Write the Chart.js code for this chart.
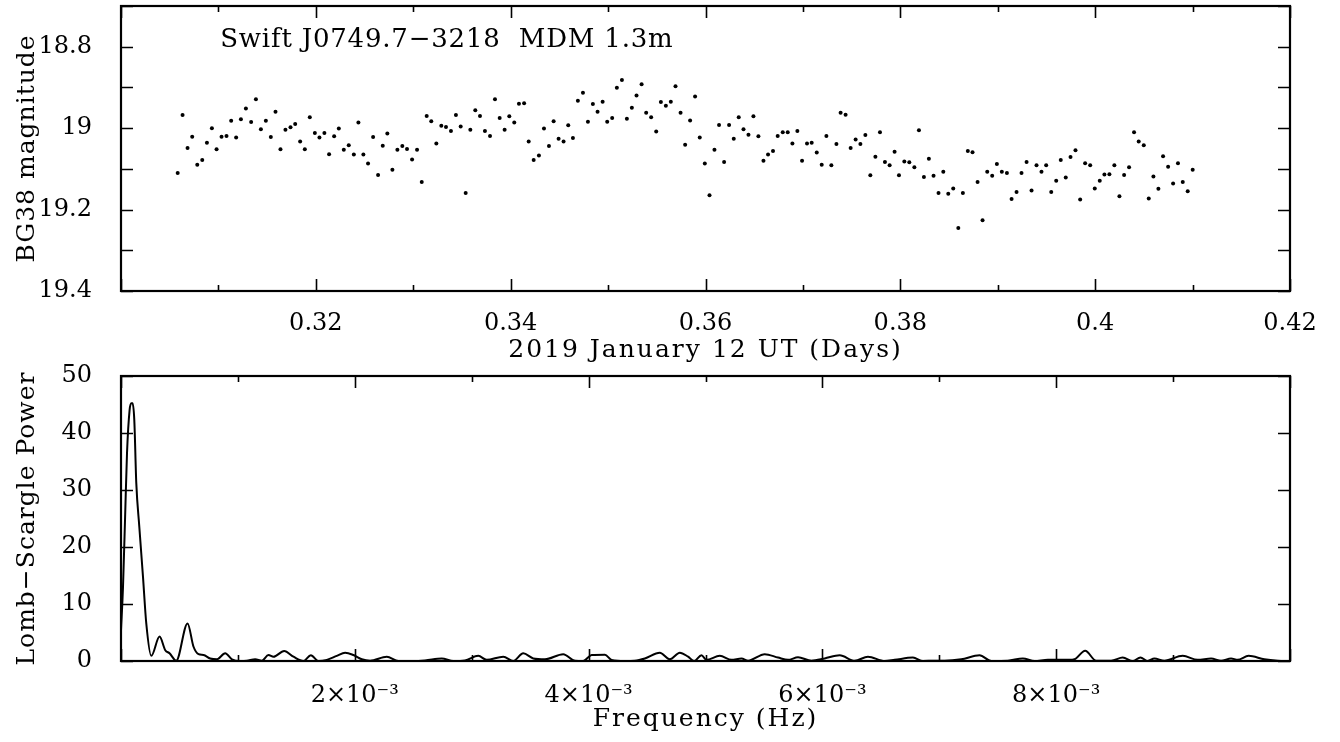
<!DOCTYPE html>
<html><head><meta charset="utf-8">
<script src="https://cdn.jsdelivr.net/npm/chart.js@4.4.1/dist/chart.umd.min.js"></script>
<style>
html,body{margin:0;padding:0;background:#fff;}
#wrap{position:relative;width:1340px;height:742px;overflow:hidden;}
canvas{position:absolute;left:0;display:block;}
</style></head><body>
<div id="wrap">
<canvas id="topChart" width="1340" height="371" style="top:0"></canvas>
<canvas id="botChart" width="1340" height="402" style="top:340px"></canvas>
</div>
<script>
// ---------- light curve (top panel) ----------
const obsTime = [
0.30582,0.30632,0.30683,0.30731,0.30783,0.30834,0.30882,0.30933,0.30981,0.31032,
0.31083,0.31131,0.31182,0.31231,0.31282,0.31336,0.31385,0.31436,0.31487,0.31538,
0.31586,0.31637,0.31688,0.31740,0.31788,0.31839,0.31887,0.31938,0.31990,0.32037,
0.32088,0.32136,0.32188,0.32236,0.32287,0.32338,0.32390,0.32437,0.32488,0.32536,
0.32588,0.32639,0.32687,0.32734,0.32786,0.32837,0.32888,0.32936,0.32988,0.33039,
0.33087,0.33138,0.33185,0.33237,0.33288,0.33336,0.33387,0.33438,0.33487,0.33538,
0.33586,0.33637,0.33685,0.33736,0.33788,0.33839,0.33887,0.33938,0.33986,0.34037,
0.34085,0.34138,0.34185,0.34236,0.34290,0.34342,0.34393,0.34441,0.34492,0.34543,
0.34591,0.34639,0.34690,0.34742,0.34793,0.34844,0.34892,0.34944,0.34991,0.35042,
0.35090,0.35142,0.35193,0.35244,0.35292,0.35344,0.35391,0.35442,0.35494,0.35542,
0.35593,0.35644,0.35692,0.35744,0.35791,0.35842,0.35893,0.35941,0.35993,0.36041,
0.36092,0.36139,0.36191,0.36242,0.36290,0.36341,0.36390,0.36441,0.36492,0.36543,
0.36595,0.36642,0.36693,0.36741,0.36793,0.36844,0.36892,0.36943,0.36991,0.37042,
0.37090,0.37142,0.37193,0.37241,0.37292,0.37344,0.37387,0.37438,0.37490,0.37541,
0.37590,0.37641,0.37692,0.37744,0.37791,0.37842,0.37890,0.37941,0.37986,0.38041,
0.38092,0.38144,0.38191,0.38242,0.38293,0.38341,0.38392,0.38441,0.38492,0.38543,
0.38595,0.38642,0.38693,0.38741,0.38793,0.38844,0.38892,0.38943,0.38991,0.39042,
0.39094,0.39142,0.39193,0.39244,0.39296,0.39347,0.39398,0.39449,0.39497,0.39549,
0.39600,0.39647,0.39698,0.39747,0.39798,0.39846,0.39897,0.39949,0.39996,0.40047,
0.40095,0.40146,0.40197,0.40249,0.40297,0.40348,0.40399,0.40447,0.40499,0.40550,
0.40598,0.40649,0.40697,0.40749,0.40800,0.40850,0.40899,0.40950,0.41001
];
const obsMag = [
19.110,18.968,19.049,19.021,19.090,19.078,19.036,19.000,19.052,19.021,
19.019,18.982,19.023,18.978,18.952,18.985,18.929,19.003,18.982,19.022,
18.960,19.052,19.004,18.998,18.990,19.033,19.052,18.973,19.012,19.023,
19.012,19.064,19.020,19.001,19.053,19.042,19.065,18.986,19.065,19.087,
19.022,19.115,19.043,19.013,19.102,19.053,19.044,19.051,19.077,19.053,
19.132,18.970,18.983,19.038,18.994,18.997,19.007,18.968,18.996,19.159,
19.004,18.956,18.970,19.007,19.019,18.929,18.975,19.004,18.971,18.986,
18.940,18.939,19.033,19.078,19.067,19.001,19.044,18.983,19.026,19.033,
18.993,19.024,18.933,18.913,18.984,18.941,18.960,18.935,18.984,18.975,
18.901,18.882,18.977,18.950,18.920,18.892,18.962,18.973,19.008,18.936,
18.945,18.935,18.897,18.962,19.041,18.981,18.922,19.023,19.087,19.165,
19.053,18.992,19.083,18.992,19.026,18.973,19.003,19.016,18.971,19.020,
19.080,19.065,19.056,19.019,19.010,19.010,19.038,19.007,19.080,19.038,
19.036,19.060,19.090,19.019,19.091,19.039,18.962,18.967,19.049,19.028,
19.039,19.017,19.116,19.070,19.010,19.083,19.091,19.058,19.116,19.082,
19.084,19.096,19.005,19.120,19.075,19.117,19.159,19.107,19.161,19.148,
19.245,19.159,19.056,19.059,19.132,19.226,19.107,19.117,19.088,19.107,
19.110,19.174,19.157,19.110,19.083,19.153,19.091,19.107,19.091,19.157,
19.129,19.078,19.121,19.071,19.054,19.175,19.086,19.091,19.148,19.129,
19.114,19.113,19.091,19.167,19.115,19.096,19.010,19.033,19.042,19.173,
19.119,19.149,19.069,19.095,19.136,19.086,19.132,19.155,19.102
];
const timeTickLabels = ['0.32','0.34','0.36','0.38','0.4','0.42'];
const magTickLabels = ['18.8','19','19.2','19.4'];

// ---------- periodogram (bottom panel) ----------
const freqHz = [
0,0.0000171,0.0000368,0.0000513,0.0000735,0.0000880,0.0000991,0.0001137,0.0001308,0.0001564,
0.0001880,0.0002162,0.0002590,0.0003299,0.0003786,0.0004154,0.0004726,0.0005692,0.0006205,0.0006632,
0.0007060,0.0007632,0.0008205,0.0008915,0.0009487,0.0010197,0.0010769,0.0011479,0.0012051,0.0012615,
0.0013043,0.0013957,0.0014752,0.0015607,0.0016239,0.0016889,0.0017607,0.0018462,0.0019171,0.0019880,
0.0020598,0.0021308,0.0022735,0.0023726,0.0024872,0.0026009,0.0027436,0.0028427,0.0029427,0.0030564,
0.0031282,0.0032701,0.0033556,0.0034410,0.0035265,0.0036265,0.0037829,0.0038829,0.0039538,0.0040256,
0.0041393,0.0041966,0.0043103,0.0043957,0.0044812,0.0046094,0.0046949,0.0047803,0.0048513,0.0049026,
0.0049658,0.0050085,0.0051222,0.0052222,0.0053077,0.0053641,0.0055068,0.0056205,0.0057060,0.0057915,
0.0059060,0.0060197,0.0061479,0.0062761,0.0063897,0.0065325,0.0066179,0.0067744,0.0068598,0.0069598,
0.0070453,0.0071880,0.0073444,0.0074444,0.0075863,0.0077145,0.0078145,0.0079282,0.0081137,0.0081564,
0.0082479,0.0083419,0.0084701,0.0085692,0.0086547,0.0087205,0.0087829,0.0088397,0.0089252,0.0090821,
0.0092103,0.0093248,0.0094103,0.0094957,0.0095521,0.0096462,0.0097803,0.0098940,0.0100000
];
const lsPower = [
5.4,13,26.5,36.4,44,45.2,45.2,42.3,31.2,23.6,
14.8,6.6,0.9,4.3,1.9,1.35,0.05,6.6,2.5,1.2,
1.05,0.45,0.3,1.35,0.3,0,0.05,0.3,0.05,1.05,
0.75,1.75,0.75,0,1.0,0,0.2,0.9,1.45,1.05,
0.3,0.05,0.75,0,0,0.1,0.45,0,0.1,0.9,
0.2,0.75,0,1.35,0.45,0.3,1.2,0.05,0,1.05,
1.1,0.2,0,0.05,0.45,1.45,0.3,1.45,0.75,0,
1.0,0.2,0.9,0.2,0.45,0.05,1.2,0.6,0.2,0.65,
0.05,0.45,1.0,0.05,0.75,0,0.2,0.6,0,0.05,
0.05,0.3,1.0,0,0.05,0.45,0,0.2,0.2,0.3,
1.8,0.05,0.05,0.6,0,0.6,0,0.45,0.05,0.9,
0.2,0.45,0.05,0.45,0.2,0.9,0.3,0.05,0
];
const freqTickValues = [0.002,0.004,0.006,0.008];
const freqTickLabels = ['2×10⁻³','4×10⁻³','6×10⁻³','8×10⁻³'];
const powerTickLabels = ['0','10','20','30','40','50'];

const annotText = 'Swift J0749.7\u22123218  MDM 1.3m';

// ---------- common settings ----------
const FONT = '"DejaVu Serif", "Liberation Serif", serif';
Chart.defaults.font.family = FONT;
Chart.defaults.color = '#000';

function labelFrom(values, labels) {
  return function (v) {
    const i = values.findIndex(t => Math.abs(t - v) < 1e-9);
    return i >= 0 ? labels[i] : '';
  };
}
const nums = a => a.map(parseFloat);

const frameTicks = {
  id: 'frameTicks',
  afterDraw(chart, args, opts) {
    const {ctx, chartArea: a} = chart;
    const xs = chart.scales.x, ys = chart.scales.y;
    const isMajor = (v, s) => Math.abs(v / s - Math.round(v / s)) < 1e-6;
    ctx.save();
    ctx.strokeStyle = '#000';
    ctx.lineWidth = 1.6;
    ctx.beginPath();
    xs.ticks.forEach(t => {
      const p = Math.round(xs.getPixelForValue(t.value)) + 0.5;
      const L = isMajor(t.value, opts.xMajor) ? 12 : 6;
      ctx.moveTo(p, a.bottom); ctx.lineTo(p, a.bottom - L);
      ctx.moveTo(p, a.top); ctx.lineTo(p, a.top + L);
    });
    ys.ticks.forEach(t => {
      const p = Math.round(ys.getPixelForValue(t.value)) + 0.5;
      const L = isMajor(t.value, opts.yMajor) ? 12 : 6;
      ctx.moveTo(a.left, p); ctx.lineTo(a.left + L, p);
      ctx.moveTo(a.right, p); ctx.lineTo(a.right - L, p);
    });
    ctx.stroke();
    ctx.lineWidth = 2.2;
    ctx.strokeRect(a.left, a.top, a.right - a.left, a.bottom - a.top);
    ctx.restore();
  }
};

const titleSpacing = {
  id: 'titleSpacing',
  beforeDraw(chart) {
    Object.values(chart.scales).forEach(s => {
      if (s.__wrapped) return;
      const orig = s.drawTitle;
      s.drawTitle = function () {
        const c = this.ctx;
        const prev = c.letterSpacing;
        c.letterSpacing = this.isHorizontal() ? '2px' : '1px';
        orig.apply(this, arguments);
        c.letterSpacing = prev;
      };
      s.__wrapped = true;
    });
  }
};

const annotation = {
  id: 'annot',
  afterDraw(chart, args, opts) {
    if (!opts.text) return;
    const {ctx} = chart;
    const x = chart.scales.x.getPixelForValue(opts.x);
    const y = chart.scales.y.getPixelForValue(opts.y);
    ctx.save();
    ctx.font = '26px ' + FONT;
    ctx.letterSpacing = '0.8px';
    ctx.fillStyle = '#000';
    ctx.textAlign = 'left';
    ctx.textBaseline = 'alphabetic';
    ctx.fillText(opts.text, x, y);
    ctx.restore();
  }
};

const tickFont = {size: 24, family: FONT};
const titleFont = {size: 25, family: FONT};
const fitY = s => { s.width = 121; s.paddingTop = 0; s.paddingBottom = 0; };
const fitX = h => s => { s.height = h; s.paddingLeft = 0; s.paddingRight = 0; };

// ---------- top chart ----------
new Chart(document.getElementById('topChart'), {
  type: 'scatter',
  data: {
    datasets: [{
      data: obsTime.map((t, i) => ({x: t, y: obsMag[i]})),
      pointRadius: 2,
      pointHoverRadius: 2,
      pointBorderWidth: 0,
      pointBackgroundColor: '#000',
      borderColor: '#000'
    }]
  },
  options: {
    responsive: false,
    animation: false,
    events: [],
    layout: {padding: {top: 6, right: 50, bottom: 0, left: 0}},
    plugins: {
      legend: {display: false},
      tooltip: {enabled: false},
      frameTicks: {xMajor: 0.02, yMajor: 0.1},
      annot: {text: annotText, x: 0.31018, y: 18.8}
    },
    scales: {
      x: {
        type: 'linear', position: 'bottom', min: 0.30, max: 0.42,
        grid: {display: false}, border: {display: false},
        ticks: {stepSize: 0.01, autoSkip: false, maxRotation: 0, minRotation: 0,
                padding: 10, font: tickFont,
                callback: labelFrom(nums(timeTickLabels), timeTickLabels)},
        title: {display: true, text: '2019 January 12 UT (Days)', font: titleFont,
                padding: {top: 0, bottom: 6}},
        afterFit: fitX(80)
      },
      y: {
        type: 'linear', position: 'left', min: 18.7, max: 19.4, reverse: true,
        grid: {display: false}, border: {display: false},
        ticks: {stepSize: 0.1, autoSkip: false, padding: 21, font: tickFont,
                callback: labelFrom(nums(magTickLabels), magTickLabels)},
        title: {display: true, text: 'BG38 magnitude', font: titleFont,
                padding: {top: 12, bottom: 0}},
        afterFit: fitY
      }
    }
  },
  plugins: [frameTicks, titleSpacing, annotation]
});

// ---------- bottom chart ----------
new Chart(document.getElementById('botChart'), {
  type: 'line',
  data: {
    datasets: [{
      data: freqHz.map((f, i) => ({x: f, y: lsPower[i]})),
      borderColor: '#000',
      borderWidth: 2,
      pointRadius: 0,
      fill: false,
      cubicInterpolationMode: 'monotone'
    }]
  },
  options: {
    responsive: false,
    animation: false,
    events: [],
    layout: {padding: {top: 36, right: 50, bottom: 0, left: 0}},
    plugins: {
      legend: {display: false},
      tooltip: {enabled: false},
      frameTicks: {xMajor: 0.002, yMajor: 10},
      annot: {text: ''}
    },
    scales: {
      x: {
        type: 'linear', position: 'bottom', min: 0, max: 0.01,
        grid: {display: false}, border: {display: false},
        ticks: {stepSize: 0.001, autoSkip: false, maxRotation: 0, minRotation: 0,
                padding: 12, font: tickFont,
                callback: labelFrom(freqTickValues, freqTickLabels)},
        title: {display: true, text: 'Frequency (Hz)', font: titleFont,
                padding: {top: 0, bottom: 8}},
        afterFit: fitX(81)
      },
      y: {
        type: 'linear', position: 'left', min: 0, max: 50,
        grid: {display: false}, border: {display: false},
        ticks: {stepSize: 10, autoSkip: false, padding: 21, font: tickFont,
                callback: labelFrom(nums(powerTickLabels), powerTickLabels)},
        title: {display: true, text: 'Lomb\u2212Scargle Power', font: titleFont,
                padding: {top: 12, bottom: 0}},
        afterFit: fitY
      }
    }
  },
  plugins: [frameTicks, titleSpacing, annotation]
});
</script>
</body></html>
